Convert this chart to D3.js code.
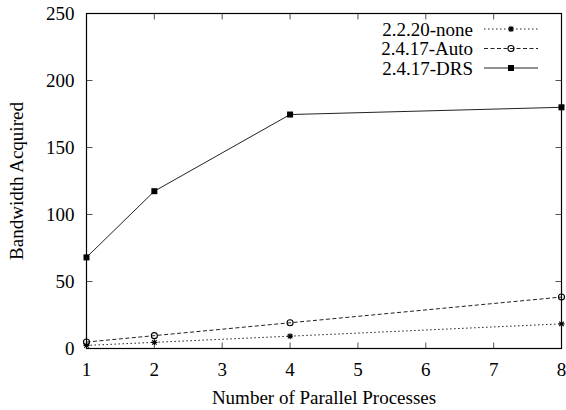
<!DOCTYPE html>
<html><head><meta charset="utf-8">
<script src="https://cdn.jsdelivr.net/npm/d3@7/dist/d3.min.js"></script>
<style>body{margin:0;background:#fff}svg{display:block}text{font-family:"Liberation Serif","Times New Roman",serif;}</style>
</head><body><svg id="c" width="566" height="410"></svg>
<script>
const procs = [1, 2, 4, 8];
const noneVals = [2.3, 4.6, 9.2, 18.4];
const autoVals = [4.8, 9.6, 19.2, 38.4];
const drsVals = [68, 117.4, 174.6, 180];
const seriesNames = ["2.2.20-none", "2.4.17-Auto", "2.4.17-DRS"];
const xTicks = [1, 2, 3, 4, 5, 6, 7, 8];
const yTicks = [0, 50, 100, 150, 200, 250];

const svg = d3.select("#c");
const L = 86.5, R = 561.5, T = 13.5, B = 348.5;
const x = d3.scaleLinear().domain([1, 8]).range([L, R]);
const y = d3.scaleLinear().domain([0, 250]).range([B, T]);
const fs = 19;
const tickLen = 6;

// ticks
const g = svg.append("g");
xTicks.forEach(t => {
  g.append("line").attr("x1", x(t)).attr("x2", x(t)).attr("y1", B).attr("y2", B - tickLen).attr("stroke", "#555");
  g.append("line").attr("x1", x(t)).attr("x2", x(t)).attr("y1", T).attr("y2", T + tickLen).attr("stroke", "#555");
  g.append("text").attr("x", x(t)).attr("y", B + 27).attr("text-anchor", "middle").attr("font-size", fs).text(t);
});
yTicks.forEach(t => {
  g.append("line").attr("x1", L).attr("x2", L + tickLen).attr("y1", y(t)).attr("y2", y(t)).attr("stroke", "#555");
  g.append("line").attr("x1", R).attr("x2", R - tickLen).attr("y1", y(t)).attr("y2", y(t)).attr("stroke", "#555");
  g.append("text").attr("x", L - 12).attr("y", y(t) + 6.5).attr("text-anchor", "end").attr("font-size", fs).text(t);
});
// frame
svg.append("rect").attr("x", L).attr("y", T).attr("width", R - L).attr("height", B - T)
  .attr("fill", "none").attr("stroke", "#000").attr("stroke-width", 1.2);

// labels
svg.append("text").attr("x", (L + R) / 2).attr("y", 404).attr("text-anchor", "middle").attr("font-size", fs).text("Number of Parallel Processes");
svg.append("text").attr("transform", `translate(23,${(T + B) / 2}) rotate(-90)`).attr("text-anchor", "middle").attr("font-size", fs).text("Bandwidth Acquired");

const series = [
  {name: seriesNames[0], vals: noneVals, dash: "1.5,2.5", marker: "star"},
  {name: seriesNames[1], vals: autoVals, dash: "4,2.5", marker: "circle"},
  {name: seriesNames[2], vals: drsVals, dash: null, marker: "square"}
];
const line = d3.line().x((d, i) => x(procs[i])).y(d => y(d));

function drawMarker(sel, type, cx, cy) {
  if (type === "star") {
    const r = 3;
    sel.append("path").attr("d", `M${cx - r},${cy}H${cx + r}M${cx},${cy - r}V${cy + r}M${cx - r * .75},${cy - r * .75}L${cx + r * .75},${cy + r * .75}M${cx - r * .75},${cy + r * .75}L${cx + r * .75},${cy - r * .75}`)
      .attr("stroke", "#000").attr("stroke-width", 1.1);
  } else if (type === "circle") {
    sel.append("circle").attr("cx", cx).attr("cy", cy).attr("r", 3).attr("fill", "none").attr("stroke", "#000").attr("stroke-width", 1.1);
  } else {
    sel.append("rect").attr("x", cx - 3).attr("y", cy - 3).attr("width", 6).attr("height", 6).attr("fill", "#000");
  }
}

series.forEach((s, si) => {
  const p = svg.append("path").datum(s.vals).attr("d", line).attr("fill", "none").attr("stroke", "#222").attr("stroke-width", 1);
  if (s.dash) p.attr("stroke-dasharray", s.dash);
  const mg = svg.append("g");
  s.vals.forEach((v, i) => drawMarker(mg, s.marker, x(procs[i]), y(v)));
  // legend
  const ly = 29 + si * 19.5;
  svg.append("text").attr("x", 473).attr("y", ly + 6.5).attr("text-anchor", "end").attr("font-size", fs).text(s.name);
  const lp = svg.append("line").attr("x1", 484).attr("x2", 538).attr("y1", ly).attr("y2", ly).attr("stroke", "#222").attr("stroke-width", 1);
  if (s.dash) lp.attr("stroke-dasharray", s.dash);
  drawMarker(svg, s.marker, 511, ly);
});
</script></body></html>
